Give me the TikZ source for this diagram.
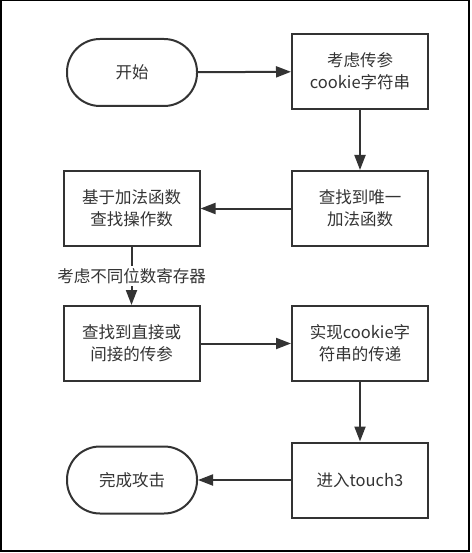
\documentclass[tikz,border=0pt]{standalone}
\usepackage{fontspec}
\setmainfont{Noto Sans CJK SC}
\usetikzlibrary{arrows.meta,positioning}
\definecolor{ink}{HTML}{333333}
\tikzset{
  x=1pt,y=-1pt,
  base/.style={draw=ink,line width=2pt,text=ink,font=\fontsize{16.5}{22}\selectfont,align=center,inner sep=0pt},
  procbox/.style={base,rectangle,minimum width=136pt,minimum height=75pt},
  termbox/.style={base,rounded corners=33pt,minimum width=130pt,minimum height=67pt},
  flow/.style={draw=ink,line width=2pt,-{Triangle[length=15pt,width=11pt]}},
  lbl/.style={fill=white,text=ink,font=\fontsize{16.5}{22}\selectfont,inner sep=2pt}
}
\begin{document}
\begin{tikzpicture}
\useasboundingbox (0,0) rectangle (471,553);
\draw[black,line width=1.5pt] (0.75,0.75) rectangle (469,551);
\node[termbox] (start) at (132,72.5) {开始};
\node[procbox] (b1) at (360,71.5) {考虑传参\\cookie字符串};
\node[procbox] (b2) at (360,208.5) {查找到唯一\\加法函数};
\node[procbox] (b3) at (131.5,208.5) {基于加法函数\\查找操作数};
\node[procbox] (b4) at (131.5,343.5) {查找到直接或\\间接的传参};
\node[procbox] (b5) at (360,343.5) {实现cookie字\\符串的传递};
\node[procbox] (b6) at (360,480) {进入touch3};
\node[termbox] (end) at (132,480) {完成攻击};
\draw[flow] (start) -- (b1);
\draw[flow] (b1) -- (b2);
\draw[flow] (b2) -- (b3);
\draw[flow] (b3) -- node[lbl] (l1) {考虑不同位数寄存器} (b4);
\draw[flow] (b4) -- (b5);
\draw[flow] (b5) -- (b6);
\draw[flow] (b6) -- (end);
\end{tikzpicture}
\end{document}
